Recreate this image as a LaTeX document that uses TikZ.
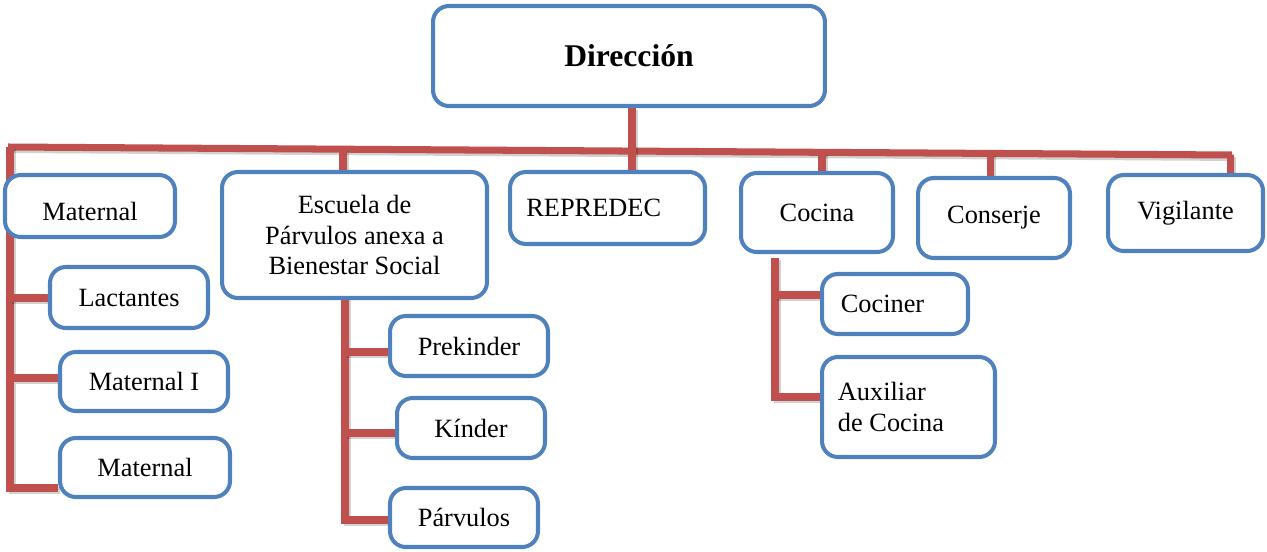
\documentclass[tikz,border=0pt]{standalone}
\usepackage{fontspec}
\setmainfont{Liberation Serif}
\usetikzlibrary{backgrounds,calc}
\definecolor{boxblue}{HTML}{4F81BD}
\definecolor{linered}{HTML}{C0504D}
\tikzset{
  box/.style={draw=boxblue, line width=2.3pt, rounded corners=9pt, fill=white,
    inner sep=2pt, font=\fontsize{15}{17.5}\selectfont, align=center},
  conn/.style={draw=linered, line width=4pt, line join=miter,
    preaction={draw=black, opacity=0.18, line width=4pt,
      transform canvas={xshift=1.2pt,yshift=-1.4pt}}},
}
\begin{document}
\begin{tikzpicture}[x=0.02cm,y=-0.02cm]
\useasboundingbox (0,0) rectangle (1267,551);
% top
\node[box, minimum width=7.84cm, minimum height=2.0cm, font=\bfseries\fontsize{18}{20}\selectfont] (dir) at (629,56) {Dirección};
% level 1
\node[box, minimum width=3.4cm, minimum height=1.24cm] (mat) at (90,206) {\raisebox{-8pt}[0pt][0pt]{Maternal}};
\node[box, minimum width=5.3cm, minimum height=2.52cm] (esc) at (354.5,235) {\raisebox{-2pt}{\parbox{5cm}{\centering Escuela de\\Párvulos anexa a\\Bienestar Social}}};
\node[box, minimum width=3.9cm, minimum height=1.44cm] (rep) at (607.5,208) {\raisebox{-2pt}{REPREDEC}\hspace*{0.55cm}};
\node[box, minimum width=3.04cm, minimum height=1.58cm] (coc) at (817,212.5) {Cocina};
\node[box, minimum width=3.04cm, minimum height=1.6cm] (con) at (994,218) {Conserje};
\node[box, minimum width=3.1cm, minimum height=1.52cm] (vig) at (1185.5,213) {\raisebox{-3pt}{Vigilante}};
% Maternal sub
\node[box, minimum width=3.16cm, minimum height=1.22cm] (lac) at (129,297.5) {Lactantes};
\node[box, minimum width=3.36cm, minimum height=1.18cm] (m1) at (144,381.5) {Maternal I};
\node[box, minimum width=3.4cm, minimum height=1.18cm] (m2) at (145,467.5) {Maternal};
% Escuela sub
\node[box, minimum width=3.16cm, minimum height=1.2cm] (pre) at (469,346) {Prekinder};
\node[box, minimum width=2.96cm, minimum height=1.2cm] (kin) at (471,428) {Kínder};
\node[box, minimum width=2.96cm, minimum height=1.18cm] (par) at (464,517.5) {Párvulos};
% Cocina sub
\node[box, minimum width=2.92cm, minimum height=1.2cm] (cocr) at (895,304) {Cociner\hspace*{0.5cm}};
\node[box, minimum width=3.46cm, minimum height=2.0cm, align=left] (aux) at (908.5,407) {Auxiliar\\de Cocina\hspace*{0.7cm}};
\begin{pgfonlayer}{background}
% main bar
\coordinate (barL) at (8,147);
\coordinate (barR) at (1232,155);
\draw[conn] (barL) -- (barR);
% drops
\coordinate (d0) at (632,151);
\draw[conn] (dir.south -| d0) -- (d0 |- rep.north);
\coordinate (d1) at (10,147);
\coordinate (mb) at (10,488);
\draw[conn] (d1) -- (mb) -- (mb -| m2.west);
\coordinate (d2) at (343,149);
\draw[conn] (d2) -- (d2 |- esc.north);
\coordinate (d4) at (822,152.3);
\draw[conn] (d4) -- (d4 |- coc.north);
\coordinate (d5) at (990,153.4);
\draw[conn] (d5) -- (d5 |- con.north);
\coordinate (d6) at (1230,155);
\draw[conn] (d6) -- (d6 |- vig.north);
% maternal branches
\coordinate (c1) at (10,298);
\draw[conn] (c1) -- (c1 -| lac.west);
\coordinate (c2) at (14,378);
\draw[conn] (c2) -- (c2 -| m1.west);
% escuela branches
\coordinate (e0) at (345,298);
\coordinate (e3) at (345,520);
\draw[conn] (e0) -- (e3) -- (e3 -| par.west);
\coordinate (e1) at (345,352);
\draw[conn] (e1) -- (e1 -| pre.west);
\coordinate (e2) at (345,433);
\draw[conn] (e2) -- (e2 -| kin.west);
% cocina branches
\coordinate (k0) at (775,258);
\coordinate (k2) at (775,397);
\draw[conn] (k0) -- (k2) -- (k2 -| aux.west);
\coordinate (k1) at (775,295);
\draw[conn] (k1) -- (k1 -| cocr.west);
\end{pgfonlayer}
\end{tikzpicture}
\end{document}
